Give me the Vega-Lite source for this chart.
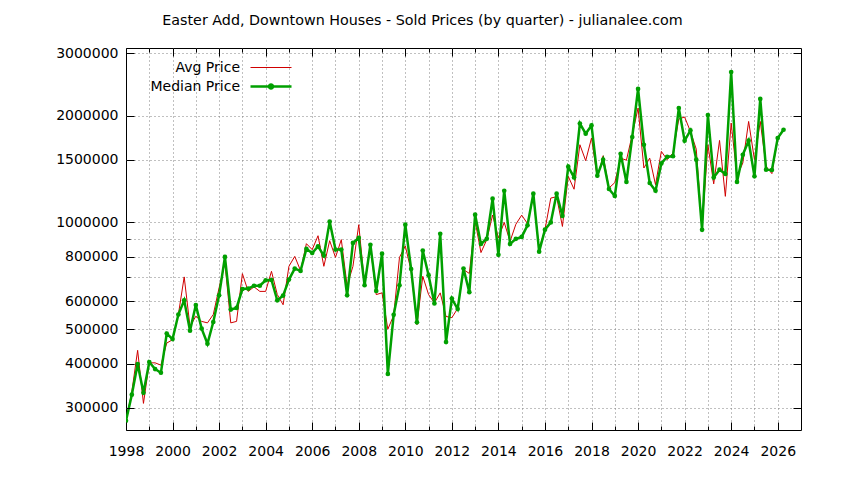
{
  "$schema": "https://vega.github.io/schema/vega-lite/v6.json",
  "width": 675,
  "height": 382,
  "autosize": {"type": "none"},
  "padding": {"left": 126, "top": 48, "right": 43, "bottom": 50},
  "background": "white",
  "config": {
    "view": {"stroke": "black", "strokeWidth": 1},
    "font": "DejaVu Sans",
    "axis": {
      "labelFont": "DejaVu Sans",
      "labelFontSize": 14,
      "labelColor": "black",
      "tickColor": "black",
      "tickWidth": 1,
      "gridColor": "#808080",
      "gridDash": [1, 3],
      "gridWidth": 1,
      "domain": false,
      "title": null
    }
  },
  "title": {
    "text": "Easter Add, Downtown Houses - Sold Prices (by quarter) - julianalee.com",
    "font": "DejaVu Sans",
    "fontSize": 14.3,
    "fontWeight": "normal",
    "color": "black",
    "anchor": "middle",
    "dx": -41,
    "offset": 7,
    "baseline": "alphabetic"
  },
  "data": {
    "values": [
      {"t": 1998.00, "avg": 276000, "median": 276000},
      {"t": 1998.25, "avg": 333000, "median": 327000},
      {"t": 1998.50, "avg": 436000, "median": 399000},
      {"t": 1998.75, "avg": 309000, "median": 331000},
      {"t": 1999.00, "avg": 402000, "median": 404000},
      {"t": 1999.25, "avg": 402000, "median": 386000},
      {"t": 1999.50, "avg": 396000, "median": 377000},
      {"t": 1999.75, "avg": 457000, "median": 486000},
      {"t": 2000.00, "avg": 467000, "median": 469000},
      {"t": 2000.25, "avg": 550000, "median": 550000},
      {"t": 2000.50, "avg": 702000, "median": 603000},
      {"t": 2000.75, "avg": 509000, "median": 495000},
      {"t": 2001.00, "avg": 544000, "median": 585000},
      {"t": 2001.25, "avg": 526000, "median": 502000},
      {"t": 2001.50, "avg": 521000, "median": 455000},
      {"t": 2001.75, "avg": 550000, "median": 524000},
      {"t": 2002.00, "avg": 654000, "median": 623000},
      {"t": 2002.25, "avg": 769000, "median": 799000},
      {"t": 2002.50, "avg": 521000, "median": 568000},
      {"t": 2002.75, "avg": 526000, "median": 574000},
      {"t": 2003.00, "avg": 717000, "median": 649000},
      {"t": 2003.25, "avg": 639000, "median": 651000},
      {"t": 2003.50, "avg": 658000, "median": 663000},
      {"t": 2003.75, "avg": 639000, "median": 663000},
      {"t": 2004.00, "avg": 639000, "median": 687000},
      {"t": 2004.25, "avg": 728000, "median": 688000},
      {"t": 2004.50, "avg": 626000, "median": 603000},
      {"t": 2004.75, "avg": 586000, "median": 622000},
      {"t": 2005.00, "avg": 752000, "median": 690000},
      {"t": 2005.25, "avg": 802000, "median": 741000},
      {"t": 2005.50, "avg": 731000, "median": 730000},
      {"t": 2005.75, "avg": 871000, "median": 842000},
      {"t": 2006.00, "avg": 838000, "median": 820000},
      {"t": 2006.25, "avg": 917000, "median": 856000},
      {"t": 2006.50, "avg": 752000, "median": 806000},
      {"t": 2006.75, "avg": 888000, "median": 1005000},
      {"t": 2007.00, "avg": 797000, "median": 838000},
      {"t": 2007.25, "avg": 894000, "median": 838000},
      {"t": 2007.50, "avg": 663000, "median": 623000},
      {"t": 2007.75, "avg": 752000, "median": 875000},
      {"t": 2008.00, "avg": 985000, "median": 904000},
      {"t": 2008.25, "avg": 668000, "median": 665000},
      {"t": 2008.50, "avg": 856000, "median": 865000},
      {"t": 2008.75, "avg": 626000, "median": 641000},
      {"t": 2009.00, "avg": 633000, "median": 816000},
      {"t": 2009.25, "avg": 500000, "median": 374000},
      {"t": 2009.50, "avg": 547000, "median": 549000},
      {"t": 2009.75, "avg": 797000, "median": 665000},
      {"t": 2010.00, "avg": 858000, "median": 985000},
      {"t": 2010.25, "avg": 731000, "median": 739000},
      {"t": 2010.50, "avg": 515000, "median": 523000},
      {"t": 2010.75, "avg": 705000, "median": 833000},
      {"t": 2011.00, "avg": 626000, "median": 710000},
      {"t": 2011.25, "avg": 593000, "median": 591000},
      {"t": 2011.50, "avg": 633000, "median": 929000},
      {"t": 2011.75, "avg": 543000, "median": 460000},
      {"t": 2012.00, "avg": 539000, "median": 610000},
      {"t": 2012.25, "avg": 572000, "median": 570000},
      {"t": 2012.50, "avg": 736000, "median": 741000},
      {"t": 2012.75, "avg": 718000, "median": 636000},
      {"t": 2013.00, "avg": 1007000, "median": 1051000},
      {"t": 2013.25, "avg": 822000, "median": 869000},
      {"t": 2013.50, "avg": 894000, "median": 899000},
      {"t": 2013.75, "avg": 1049000, "median": 1166000},
      {"t": 2014.00, "avg": 904000, "median": 810000},
      {"t": 2014.25, "avg": 1000000, "median": 1228000},
      {"t": 2014.50, "avg": 884000, "median": 869000},
      {"t": 2014.75, "avg": 988000, "median": 899000},
      {"t": 2015.00, "avg": 1048000, "median": 910000},
      {"t": 2015.25, "avg": 992000, "median": 981000},
      {"t": 2015.50, "avg": 1185000, "median": 1205000},
      {"t": 2015.75, "avg": 843000, "median": 827000},
      {"t": 2016.00, "avg": 954000, "median": 954000},
      {"t": 2016.25, "avg": 1171000, "median": 1000000},
      {"t": 2016.50, "avg": 1181000, "median": 1205000},
      {"t": 2016.75, "avg": 974000, "median": 1043000},
      {"t": 2017.00, "avg": 1348000, "median": 1435000},
      {"t": 2017.25, "avg": 1240000, "median": 1339000},
      {"t": 2017.50, "avg": 1655000, "median": 1899000},
      {"t": 2017.75, "avg": 1492000, "median": 1778000},
      {"t": 2018.00, "avg": 1729000, "median": 1876000},
      {"t": 2018.25, "avg": 1334000, "median": 1354000},
      {"t": 2018.50, "avg": 1541000, "median": 1502000},
      {"t": 2018.75, "avg": 1250000, "median": 1242000},
      {"t": 2019.00, "avg": 1294000, "median": 1187000},
      {"t": 2019.25, "avg": 1517000, "median": 1561000},
      {"t": 2019.50, "avg": 1497000, "median": 1300000},
      {"t": 2019.75, "avg": 1766000, "median": 1740000},
      {"t": 2020.00, "avg": 2100000, "median": 2377000},
      {"t": 2020.25, "avg": 1423000, "median": 1655000},
      {"t": 2020.50, "avg": 1517000, "median": 1291000},
      {"t": 2020.75, "avg": 1277000, "median": 1228000},
      {"t": 2021.00, "avg": 1585000, "median": 1466000},
      {"t": 2021.25, "avg": 1502000, "median": 1531000},
      {"t": 2021.50, "avg": 1569000, "median": 1536000},
      {"t": 2021.75, "avg": 1956000, "median": 2100000},
      {"t": 2022.00, "avg": 1981000, "median": 1699000},
      {"t": 2022.25, "avg": 1804000, "median": 1816000},
      {"t": 2022.50, "avg": 1608000, "median": 1502000},
      {"t": 2022.75, "avg": 966000, "median": 953000},
      {"t": 2023.00, "avg": 1655000, "median": 2007000},
      {"t": 2023.25, "avg": 1284000, "median": 1339000},
      {"t": 2023.50, "avg": 1702000, "median": 1408000},
      {"t": 2023.75, "avg": 1184000, "median": 1369000},
      {"t": 2024.00, "avg": 1905000, "median": 2653000},
      {"t": 2024.25, "avg": 1348000, "median": 1300000},
      {"t": 2024.50, "avg": 1470000, "median": 1551000},
      {"t": 2024.75, "avg": 1925000, "median": 1699000},
      {"t": 2025.00, "avg": 1502000, "median": 1348000},
      {"t": 2025.25, "avg": 1925000, "median": 2228000},
      {"t": 2025.50, "avg": 1438000, "median": 1408000},
      {"t": 2025.75, "avg": 1372000, "median": 1405000},
      {"t": 2026.00, "avg": 1729000, "median": 1729000},
      {"t": 2026.25, "avg": 1824000, "median": 1824000}
    ]
  },
  "layer": [
    {
      "mark": {"type": "line", "strokeWidth": 1, "clip": true},
      "encoding": {
        "x": {"field": "t", "type": "quantitative",
              "scale": {"domain": [1998, 2027], "nice": false, "zero": false},
              "axis": {"orient": "bottom", "values": [1998,2000,2002,2004,2006,2008,2010,2012,2014,2016,2018,2020,2022,2024,2026], "format": "d", "ticks": false, "grid": false, "labelPadding": 14, "labelFlush": false, "labelOverlap": false}},
        "y": {"field": "avg", "type": "quantitative",
              "scale": {"type": "log", "domain": [260000, 3100000], "nice": false, "zero": false},
              "axis": {"orient": "left", "values": [300000,400000,500000,600000,800000,1000000,1500000,2000000,3000000], "format": "d", "ticks": false, "grid": false, "labelPadding": 8, "labelOverlap": false}},
        "color": {"datum": "Avg Price", "type": "nominal",
                  "scale": {"domain": ["Avg Price", "Median Price"], "range": ["#d00000", "#00a000"]},
                  "legend": {
                    "orient": "none", "legendX": 124, "legendY": 12.5, "title": null,
                    "symbolType": "stroke", "symbolStrokeWidth": 1,
                    "labelAlign": "right", "labelFont": "DejaVu Sans", "labelFontSize": 14, "labelColor": "black", "labelLimit": 300,
                    "rowPadding": 4, "padding": 0,
                    "encode": {
                      "symbols": {"update": {
                        "x": {"value": 21},
                        "size": {"value": 1681},
                        "stroke": {"signal": "datum.value === 'Median Price' ? '#00a000' : '#d00000'"},
                        "fill": {"value": "transparent"},
                        "opacity": {"value": 1},
                        "strokeOpacity": {"value": 1},
                        "strokeWidth": {"signal": "datum.value === 'Median Price' ? 2.5 : 1"},
                        "shape": {"signal": "datum.value === 'Median Price' ? 'M-1,0H1M-0.1,0A0.1,0.1,0,1,1,0.1,0A0.1,0.1,0,1,1,-0.1,0' : 'M-1,0H1'"}
                      }},
                      "labels": {"update": {
                        "x": {"value": -10},
                        "align": {"value": "right"}
                      }}
                    }
                  }}
      }
    },
    {
      "mark": {"type": "line", "strokeWidth": 2.5, "clip": true, "point": {"filled": true, "size": 22, "opacity": 1}},
      "encoding": {
        "x": {"field": "t", "type": "quantitative",
              "axis": {"orient": "bottom", "values": [1999,2000,2001,2002,2003,2004,2005,2006,2007,2008,2009,2010,2011,2012,2013,2014,2015,2016,2017,2018,2019,2020,2021,2022,2023,2024,2025,2026], "grid": true, "labels": false, "ticks": false}},
        "y": {"field": "median", "type": "quantitative",
              "axis": {"orient": "left", "values": [300000,400000,500000,600000,700000,800000,900000,1000000,1500000,2000000,3000000], "grid": true, "labels": false, "ticks": false}},
        "color": {"datum": "Median Price", "type": "nominal"}
      }
    },
    {
      "mark": {"type": "point", "opacity": 0},
      "encoding": {
        "x": {"field": "t", "type": "quantitative",
              "axis": {"orient": "bottom", "values": [1998,2000,2002,2004,2006,2008,2010,2012,2014,2016,2018,2020,2022,2024,2026], "labels": false, "grid": false, "ticks": true, "tickSize": -8, "zindex": 2}},
        "y": {"field": "avg", "type": "quantitative",
              "axis": {"orient": "left", "values": [300000,400000,500000,600000,800000,1000000,1500000,2000000,3000000], "labels": false, "grid": false, "ticks": true, "tickSize": -8, "zindex": 2}}
      }
    },
    {
      "mark": {"type": "point", "opacity": 0},
      "encoding": {
        "x": {"field": "t", "type": "quantitative",
              "axis": {"orient": "top", "values": [1998,2000,2002,2004,2006,2008,2010,2012,2014,2016,2018,2020,2022,2024,2026], "labels": false, "grid": false, "ticks": true, "tickSize": -8, "zindex": 2}},
        "y": {"field": "avg", "type": "quantitative",
              "axis": {"orient": "right", "values": [300000,400000,500000,600000,800000,1000000,1500000,2000000,3000000], "labels": false, "grid": false, "ticks": true, "tickSize": -8, "zindex": 2}}
      }
    },
    {
      "mark": {"type": "point", "opacity": 0},
      "encoding": {
        "x": {"field": "t", "type": "quantitative",
              "axis": {"orient": "bottom", "values": [1999,2001,2003,2005,2007,2009,2011,2013,2015,2017,2019,2021,2023,2025], "labels": false, "grid": false, "ticks": true, "tickSize": -4, "zindex": 2}},
        "y": {"field": "avg", "type": "quantitative",
              "axis": {"orient": "left", "values": [700000, 900000], "labels": false, "grid": false, "ticks": true, "tickSize": -4, "zindex": 2}}
      }
    },
    {
      "mark": {"type": "point", "opacity": 0},
      "encoding": {
        "x": {"field": "t", "type": "quantitative",
              "axis": {"orient": "top", "values": [1999,2001,2003,2005,2007,2009,2011,2013,2015,2017,2019,2021,2023,2025], "labels": false, "grid": false, "ticks": true, "tickSize": -4, "zindex": 2}},
        "y": {"field": "avg", "type": "quantitative",
              "axis": {"orient": "right", "values": [700000, 900000], "labels": false, "grid": false, "ticks": true, "tickSize": -4, "zindex": 2}}
      }
    }
  ],
  "resolve": {"axis": {"x": "independent", "y": "independent"}}
}
